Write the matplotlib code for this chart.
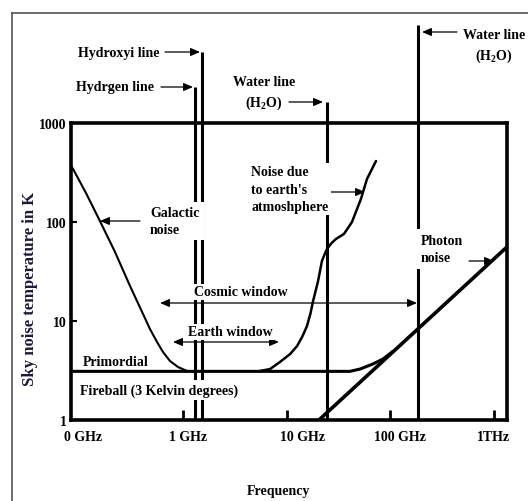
import matplotlib
matplotlib.use('Agg')
import matplotlib.pyplot as plt
import matplotlib.transforms as mtransforms
from matplotlib.lines import Line2D
from matplotlib.ticker import NullLocator, FixedLocator, FixedFormatter

plt.rcParams['font.family'] = ['Liberation Serif', 'DejaVu Serif']
plt.rcParams['font.weight'] = 'bold'
plt.rcParams['axes.labelweight'] = 'bold'
plt.rcParams['mathtext.fontset'] = 'custom'
plt.rcParams['mathtext.rm'] = 'Liberation Serif:bold'
plt.rcParams['mathtext.bf'] = 'Liberation Serif:bold'

# ---------------- data ----------------
x_ticks_ghz = [0.1, 1, 10, 100, 1000]
x_tick_labels = ['0 GHz', '1 GHz', '10 GHz', '100 GHz', '1THz']
y_ticks = [1, 10, 100, 1000]
y_tick_labels = ['1', '10', '100', '1000']

# galactic noise (GHz, K)
galactic_f = [0.0847, 0.1156, 0.1577, 0.2202, 0.3073, 0.410, 0.479, 0.560,
              0.640, 0.748, 0.893, 1.09, 1.36]
galactic_T = [359, 196, 102, 49.8, 22.6, 11.8, 8.3, 6.14, 4.86, 3.94, 3.43, 3.13, 3.1]

# noise due to earth's atmosphere
atmos_f = [5.28, 6.9, 8.6, 10.8, 12.6, 14.2, 15.7, 17.0, 17.9, 19.0, 20.1, 21.9,
           23.2, 24.5, 27.0, 29.9, 35.7, 42.7, 52.1, 59.6, 72.8]
atmos_T = [3.1, 3.27, 3.85, 4.64, 5.59, 7.0, 8.9, 12.0, 15.6, 20.0, 25.4, 40.4,
           47.0, 53.4, 61.0, 67.4, 75.7, 100, 171, 272, 413]

# primordial fireball (3 K) line joining photon noise
fireball_f = [0.0828, 40.8, 51, 68, 85, 104]
fireball_T = [3.1, 3.1, 3.27, 3.68, 4.13, 4.86]

# photon noise
photon_f = [20.5, 1339]
photon_T = [1.0, 56]

# spectral lines (GHz) and the top of their drawn markers (K)
spec_names = ['Hydrogen line', 'Hydroxyl line', 'Water line 22', 'Water line 183']
spec_f = [1.30, 1.52, 24.5, 185]
spec_top_T = [2310, 5210, 1630, 9770]

# ---------------- figure ----------------
W, H = 528, 502
fig = plt.figure(figsize=(W / 100, H / 100), dpi=100)
ax = fig.add_axes([71 / W, 1 - 421 / H, 436 / W, 297 / H])


def fp(x, y):
    return (x / W, 1 - y / H)


ax.set_xscale('log')
ax.set_yscale('log')
ax.set_xlim(0.0828, 1339)
ax.set_ylim(1, 1000)

ax.plot(galactic_f, galactic_T, color='k', lw=1.5, solid_capstyle='round')
ax.plot(atmos_f, atmos_T, color='k', lw=1.8, solid_capstyle='round',
        solid_joinstyle='round')
ax.plot(fireball_f, fireball_T, color='k', lw=2.2)
ax.plot(photon_f, photon_T, color='k', lw=2.6)
ax.vlines(spec_f, 1, spec_top_T, colors='k', lw=2.2, clip_on=False)

for s in ax.spines.values():
    s.set_linewidth(2.6)
    s.set_color('k')

ax.xaxis.set_major_locator(FixedLocator(x_ticks_ghz))
ax.xaxis.set_major_formatter(FixedFormatter(x_tick_labels))
ax.yaxis.set_major_locator(FixedLocator(y_ticks))
ax.yaxis.set_major_formatter(FixedFormatter(y_tick_labels))
ax.xaxis.set_minor_locator(NullLocator())
ax.yaxis.set_minor_locator(NullLocator())
ax.tick_params(axis='x', direction='in', length=7, width=2, pad=7, labelsize=10)
ax.tick_params(axis='y', direction='in', length=4, width=1.5, pad=3, labelsize=10)
ax.xaxis.get_major_ticks()[0].tick1line.set_visible(False)

offsets = [3.5, 4.5, 16, 10, 0]
for lbl, dx in zip(ax.get_xticklabels(), offsets):
    lbl.set_transform(lbl.get_transform() +
                      mtransforms.ScaledTranslation(dx / 100, 0, fig.dpi_scale_trans))

ax.set_ylabel('Sky noise temperature in K', fontsize=12, color='#1a1a3a',
              fontweight='bold')
ax.yaxis.label.set_va('center')
ax.yaxis.set_label_coords((30 - 71) / 436, (421 - 289) / 297)
ax.set_xlabel('Frequency', fontsize=10, fontweight='bold')
ax.xaxis.label.set_va('center')
ax.xaxis.set_label_coords((278 - 71) / 436, (421 - 491) / 297)

# outer frame (left and top visible)
fig.add_artist(Line2D([12 / W, 12 / W], [1 - 14 / H, 0], color='#555555', lw=1.2,
                      transform=fig.transFigure))
fig.add_artist(Line2D([12 / W, 1], [1 - 14 / H, 1 - 14 / H], color='#555555', lw=1.2,
                      transform=fig.transFigure))

# ---------------- annotations ----------------
FS = 10


def t(x, y, s, ha='left', va='center', pad=None, **kw):
    box = None if pad is None else dict(boxstyle='square,pad=%g' % pad, fc='white', ec='none')
    fig.text(*fp(x, y), s, ha=ha, va=va, fontsize=FS, bbox=box,
             linespacing=1.4, **kw)


t(160, 53, 'Hydroxyi line', ha='right')
t(154, 88, 'Hydrgen line', ha='right')
t(264, 94, 'Water line\n(H$_{\\mathregular{2}}$O)', ha='center', multialignment='center')
t(494, 47, 'Water line\n(H$_{\\mathregular{2}}$O)', ha='center', multialignment='center')
t(150, 222, 'Galactic\nnoise', pad=0.3)
t(251, 190, "Noise due\nto earth's\natmoshphere", pad=0.2)
t(421, 250, 'Photon\nnoise', pad=0.35)
t(194, 293, 'Cosmic window', pad=0.12)
t(188, 333, 'Earth window', pad=0.12)
t(83, 362, 'Primordial')
t(80, 391, 'Fireball (3 Kelvin degrees)', pad=0.2)

arrows = [((165, 53), (200, 53), '-|>'),
          ((161, 88), (193, 88), '-|>'),
          ((289, 103), (323, 103), '-|>'),
          ((457, 33), (422, 33), '-|>'),
          ((140, 222), (100, 222), '-|>'),
          ((330, 193), (365, 193), '-|>'),
          ((469, 262), (494, 262), '-|>'),
          ((160, 304), (417, 304), '<|-|>'),
          ((173, 343), (279, 343), '<|-|>')]
for tail, tip, style in arrows:
    ax.annotate('', xy=fp(*tip), xycoords='figure fraction',
                xytext=fp(*tail), textcoords='figure fraction',
                annotation_clip=False,
                arrowprops=dict(arrowstyle=style + ',head_length=0.7,head_width=0.3',
                                color='k', lw=0.9, shrinkA=0, shrinkB=0,
                                mutation_scale=8))

fig.savefig('out.png', dpi=100)
